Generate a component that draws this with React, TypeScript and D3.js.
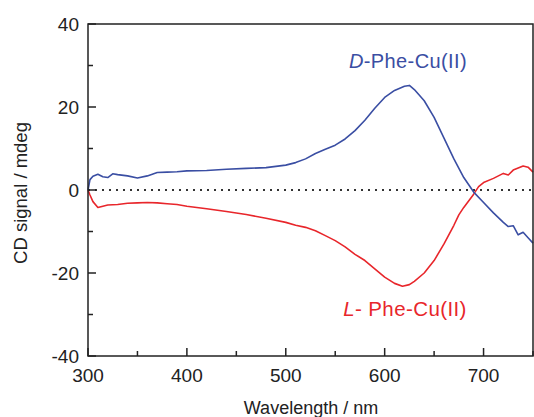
import React from 'react';
import * as d3 from 'd3';

// D-Phe-Cu(II) spectrum (wavelength nm, CD mdeg)
const dWave = [300, 302, 305, 310, 315, 320, 325, 330, 340, 350, 360, 370, 380, 390, 400, 420, 440, 460, 480, 500, 510, 520, 530, 540, 550, 560, 570, 580, 590, 600, 610, 620, 625, 630, 640, 650, 660, 670, 680, 690, 700, 710, 720, 725, 730, 735, 740, 745, 750];
const dSignal = [0, 2.5, 3.3, 3.8, 3.2, 3.0, 3.9, 3.7, 3.4, 2.9, 3.4, 4.2, 4.3, 4.4, 4.6, 4.7, 5.0, 5.2, 5.4, 6.0, 6.6, 7.5, 8.8, 9.8, 10.8, 12.3, 14.3, 16.8, 19.7, 22.3, 24.0, 25.0, 25.2, 24.2, 21.5, 17.5, 12.5, 7.5, 3.0, -0.5, -3.0, -5.5, -7.8, -8.8, -8.6, -10.8, -10.2, -11.5, -12.8];

// L-Phe-Cu(II) spectrum
const lWave = [300, 302, 305, 310, 315, 320, 330, 340, 350, 360, 370, 380, 390, 400, 420, 440, 460, 480, 500, 510, 520, 530, 540, 550, 560, 570, 580, 590, 600, 610, 618, 625, 630, 640, 650, 660, 670, 675, 680, 690, 695, 700, 710, 720, 725, 730, 740, 745, 750];
const lSignal = [0, -1.2, -2.8, -4.2, -3.9, -3.6, -3.5, -3.2, -3.1, -3.0, -3.1, -3.3, -3.5, -3.9, -4.5, -5.2, -5.9, -6.8, -7.8, -8.5, -9.0, -9.8, -11.0, -12.2, -13.7, -15.5, -17.0, -19.0, -21.0, -22.5, -23.2, -22.8, -22.0, -20.0, -17.0, -13.0, -8.5, -6.0, -4.2, -1.0, 0.8, 1.8, 2.8, 4.0, 3.6, 4.8, 5.8, 5.5, 4.3];

const xMajor = [300, 400, 500, 600, 700];
const xMinor = [350, 450, 550, 650, 750];
const yMajor = [-40, -20, 0, 20, 40];
const yMinor = [-30, -10, 10, 30];

const W = 534, H = 417;
const left = 88, right = 533, top = 24, bottom = 356;
const font = "'Liberation Sans', Arial, sans-serif";
const blue = '#3a4ea3';
const red = '#e8262b';
const ink = '#222';

export default function App() {
  const x = d3.scaleLinear().domain([300, 750]).range([left, right]);
  const y = d3.scaleLinear().domain([-40, 40]).range([bottom, top]);

  const line = d3.line<[number, number]>()
    .x(d => x(d[0]))
    .y(d => y(d[1]))
    .curve(d3.curveLinear);

  const dPath = line(dWave.map((w, i) => [w, dSignal[i]]) as [number, number][]) || '';
  const lPath = line(lWave.map((w, i) => [w, lSignal[i]]) as [number, number][]) || '';

  return (
    <svg width={W} height={H} style={{ position: 'absolute', left: 0, top: 0, background: '#fff' }}>
      <line x1={x(300)} x2={x(750)} y1={y(0)} y2={y(0)} stroke="#333" strokeWidth={2} strokeDasharray="2 5" />

      <path d={lPath} fill="none" stroke={red} strokeWidth={1.6} strokeLinejoin="round" />
      <path d={dPath} fill="none" stroke={blue} strokeWidth={1.6} strokeLinejoin="round" />

      <rect x={left} y={top} width={right - left} height={bottom - top} fill="none" stroke={ink} strokeWidth={1.5} />

      {xMajor.map(v => (
        <g key={'xM' + v}>
          <line x1={x(v)} x2={x(v)} y1={bottom} y2={bottom - 8} stroke={ink} strokeWidth={1.5} />
          <text x={x(v)} y={382} textAnchor="middle" fontFamily={font} fontSize={19} fill={ink}>{v}</text>
        </g>
      ))}
      {xMinor.map(v => (
        <line key={'xm' + v} x1={x(v)} x2={x(v)} y1={bottom} y2={bottom - 5} stroke={ink} strokeWidth={1.5} />
      ))}
      {yMajor.map(v => (
        <g key={'yM' + v}>
          <line x1={left} x2={left + 8} y1={y(v)} y2={y(v)} stroke={ink} strokeWidth={1.5} />
          <text x={79} y={y(v) + 7} textAnchor="end" fontFamily={font} fontSize={19} fill={ink}>{v}</text>
        </g>
      ))}
      {yMinor.map(v => (
        <line key={'ym' + v} x1={left} x2={left + 5} y1={y(v)} y2={y(v)} stroke={ink} strokeWidth={1.5} />
      ))}

      <text x={311} y={414} textAnchor="middle" fontFamily={font} fontSize={18} fill={ink}>Wavelength / nm</text>
      <text transform={`translate(27,${193}) rotate(-90)`} textAnchor="middle" fontFamily={font} fontSize={18.5} fill={ink}>CD signal / mdeg</text>

      <text x={408} y={68} textAnchor="middle" fontFamily={font} fontSize={20} letterSpacing={0.4} fill={blue}>
        <tspan fontStyle="italic">D</tspan>-Phe-Cu(II)
      </text>
      <text x={405} y={316} textAnchor="middle" fontFamily={font} fontSize={20.5} letterSpacing={0.4} fill={red}>
        <tspan fontStyle="italic">L</tspan>- Phe-Cu(II)
      </text>
    </svg>
  );
}
